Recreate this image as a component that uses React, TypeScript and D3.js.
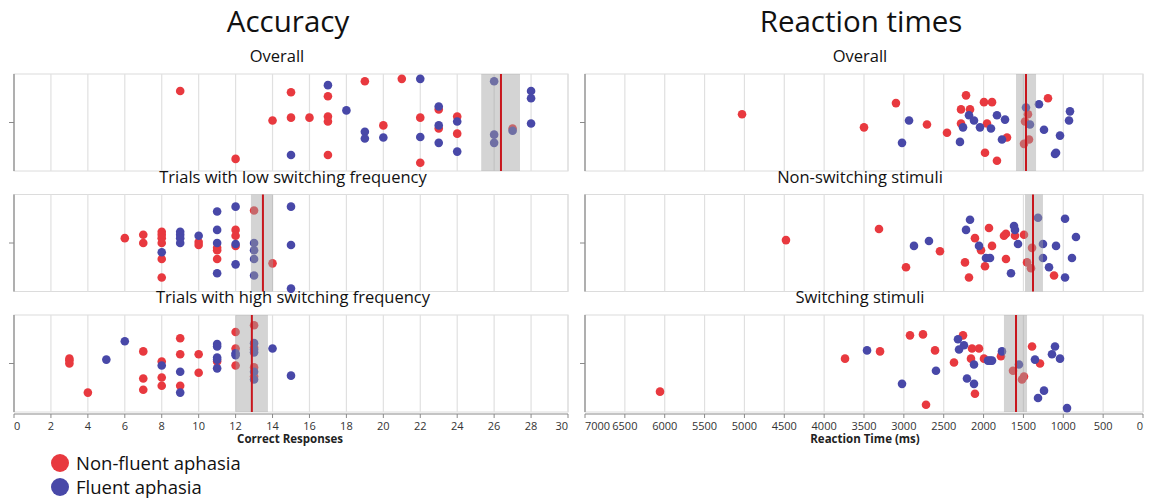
import * as d3 from "d3";

// [value, jitter] pairs; jitter runs -1 (bottom) .. 1 (top) inside each strip
const accOverallNF = [[9,0.65],[15,0.625],[14,0.04],[15,0.1],[12,-0.75],[17,0.54],[16,0.1],[17,0.125],[17,0.02],[17,-0.67],[19,0.85],[20,-0.06],[21,0.9],[22,0.1],[22,-0.83],[23,0.27],[23,-0.125],[24,0.125],[24,-0.23],[27,-0.125]];
const accOverallF = [[15,-0.67],[17,0.77],[18,0.25],[19,-0.19],[19,-0.33],[20,-0.31],[22,0.9],[22,-0.3],[23,0.33],[23,-0.06],[23,-0.42],[24,0.02],[24,-0.6],[26,0.85],[26,-0.25],[26,-0.42],[27,-0.17],[28,0.65],[28,0.5],[28,-0.02]];
const accLowNF = [[6,0.1],[7,0.17],[7,0],[8,0.23],[8,0.17],[8,0.1],[8,0],[8,-0.33],[8,-0.71],[10,0.02],[10,-0.04],[11,-0.1],[11,-0.15],[11,-0.33],[12,0.27],[12,0.15],[12,-0.06],[13,0.67],[14,-0.42]];
const accLowF = [[8,-0.19],[9,0.23],[9,0.17],[9,0.1],[9,0],[10,0.15],[11,0.65],[11,0.27],[11,0],[11,-0.625],[12,0.75],[12,-0.02],[12,-0.44],[13,0],[13,-0.15],[13,-0.33],[13,-0.67],[15,0.75],[15,-0.04],[15,-0.94]];
const accHighNF = [[3,0.1],[3,0.06],[3,0],[4,-0.6],[7,0.25],[7,-0.31],[7,-0.54],[8,0.04],[8,-0.29],[8,-0.46],[9,0.52],[9,0.19],[9,-0.46],[10,0.19],[10,-0.19],[11,0.04],[12,0.65],[12,0.31],[12,-0.04],[13,0.79],[13,0.33],[13,-0.08],[13,-0.27]];
const accHighF = [[5,0.08],[6,0.46],[8,-0.04],[9,-0.17],[9,-0.6],[11,0.4],[11,0.35],[11,0.125],[11,0.08],[11,-0.1],[12,0.21],[12,0.17],[13,0.42],[13,0.29],[13,0.23],[13,-0.17],[13,-0.33],[14,0.31],[15,-0.25]];

const rtOverallNF = [[5030,0.17],[3500,-0.1],[3099,0.4],[2710,-0.04],[2459,-0.21],[2283,0.27],[2283,-0.02],[2220,0.56],[2170,0.27],[1995,0.42],[1982,-0.625],[1957,-0.02],[1894,0.42],[1832,-0.79],[1706,-0.31],[1443,0.17],[1480,0.02],[1430,-0.35],[1493,-0.44],[1192,0.5]];
const rtOverallF = [[2935,0.04],[3023,-0.42],[2296,-0.4],[2258,-0.1],[2183,0.15],[2120,0.04],[2045,-0.1],[1907,-0.125],[1832,0.15],[1769,-0.35],[1731,0.06],[1468,0.31],[1418,-0.04],[1305,0.375],[1242,-0.15],[1041,-0.27],[1104,-0.65],[1091,-0.625],[916,0.23],[928,0.04]];
const rtNonSwNF = [[4479,0.06],[3312,0.29],[2973,-0.5],[2547,-0.17],[2233,-0.4],[2183,-0.71],[2108,0.1],[2032,-0.15],[1982,-0.48],[1932,0.31],[1894,-0.06],[1744,0.15],[1719,0.19],[1719,-0.33],[1606,0.15],[1493,0.17],[1392,-0.1],[1455,-0.4],[1405,-0.52],[1116,-0.67]];
const rtNonSwF = [[2873,-0.06],[2685,0.04],[2220,0.27],[2170,0.48],[2057,-0.06],[1970,-0.31],[1919,-0.31],[1656,-0.625],[1618,0.35],[1606,0.27],[1568,-0.02],[1317,0.52],[1255,-0.02],[1255,-0.31],[1179,-0.5],[1091,-0.06],[978,0.5],[978,-0.71],[891,-0.31],[841,0.125]];
const rtSwNF = [[6059,-0.58],[3738,0.1],[3299,0.25],[2923,0.58],[2760,0.6],[2609,0.27],[2722,-0.85],[2371,0.02],[2258,0.58],[2145,0.31],[2158,0.1],[2108,-0.625],[2057,0.31],[1995,0.1],[1782,0.15],[1631,-0.15],[1493,-0.27],[1518,-0.33],[1392,0.35],[1292,0]];
const rtSwF = [[3462,0.27],[3023,-0.42],[2597,-0.15],[2321,0.5],[2308,0.29],[2246,0.375],[2208,-0.31],[2120,-0.02],[2120,-0.42],[1945,0.06],[1919,0.06],[1894,0.06],[1769,0.25],[1556,-0.02],[1355,0.08],[1242,-0.56],[1317,-0.71],[1104,0.35],[1142,0.19],[1041,0.1],[953,-0.92]];

const accTitles = ["Overall", "Trials with low switching frequency", "Trials with high switching frequency"];
const rtTitles = ["Overall", "Non-switching stimuli", "Switching stimuli"];
const accMeans = [26.37, 13.48, 12.88];
const accCI = [[25.3, 27.4], [12.83, 14.03], [12.0, 13.75]];
const rtMeans = [1468, 1380, 1593];
const rtCI = [[1342, 1593], [1255, 1480], [1455, 1744]];
const accTicks = d3.range(0, 31, 2);
const rtTicks = d3.range(7000, -1, -500);

const W = 1152;
const H = 500;
const ROW_TOP = [74, 194.5, 315];
const ROW_H = 97;
const RED = "#e8393f";
const BLUE = "#4848a8";
const FONT = "'Open Sans', 'DejaVu Sans', sans-serif";

const xAcc = d3.scaleLinear().domain([0, 30]).range([14, 568]);
const xRt = d3.scaleLinear().domain([7000, 0]).range([585, 1143]);

type Pt = number[];

function Strip(props: {
  x: d3.ScaleLinear<number, number>;
  top: number;
  ticks: number[];
  nf: Pt[];
  fl: Pt[];
  mean: number;
  ci: number[];
  title: string;
  titleShift: number;
  bottomAxis: boolean;
}) {
  const { x, top, ticks, nf, fl, mean, ci, title, titleShift, bottomAxis } = props;
  const y = d3.scaleLinear().domain([-1, 1]).range([top + ROW_H, top]);
  const [x0, x1] = x.range();
  const bottom = top + ROW_H;
  const mid = y(0);
  const last = ticks.length - 1;
  return (
    <g>
      <text x={(x0 + x1) / 2 + titleShift} y={top - 12} textAnchor="middle" fontSize={16.5} fill="#111" fontFamily={FONT}>
        {title}
      </text>
      <rect x={x0} y={top} width={x1 - x0} height={ROW_H} fill="#fff" stroke="#dcdcdc" />
      {ticks.map((t) => (
        <line key={t} x1={x(t)} x2={x(t)} y1={top} y2={bottom} stroke="#e0e0e0" strokeWidth={1.2} />
      ))}
      {nf.map((d, i) => (
        <circle key={"n" + i} cx={x(d[0])} cy={y(d[1])} r={4.3} fill={RED} />
      ))}
      {fl.map((d, i) => (
        <circle key={"f" + i} cx={x(d[0])} cy={y(d[1])} r={4.3} fill={BLUE} />
      ))}
      <rect
        x={Math.min(x(ci[0]), x(ci[1]))}
        y={top}
        width={Math.abs(x(ci[1]) - x(ci[0]))}
        height={ROW_H}
        fill="#a0a0a0"
        opacity={0.45}
      />
      <line x1={x(mean)} x2={x(mean)} y1={top} y2={bottom} stroke="#c8161d" strokeWidth={2} />
      <line x1={x0} x2={x0} y1={top} y2={bottom} stroke="#8a8a8a" strokeWidth={1.2} />
      <line x1={x0 - 5} x2={x0} y1={mid} y2={mid} stroke="#8a8a8a" />
      {bottomAxis && (
        <g>
          <line x1={x0} x2={x1} y1={bottom + 2} y2={bottom + 2} stroke="#8a8a8a" strokeWidth={1.2} />
          {ticks.map((t, i) => (
            <g key={"t" + t}>
              <line x1={x(t)} x2={x(t)} y1={bottom + 2} y2={bottom + 6} stroke="#8a8a8a" />
              <text
                x={x(t)}
                y={bottom + 18}
                textAnchor={i === 0 ? "start" : i === last ? "end" : "middle"}
                fontSize={11}
                fill="#333"
                fontFamily={FONT}
              >
                {t}
              </text>
            </g>
          ))}
        </g>
      )}
    </g>
  );
}

export default function App() {
  const accNF = [accOverallNF, accLowNF, accHighNF];
  const accF = [accOverallF, accLowF, accHighF];
  const rtNF = [rtOverallNF, rtNonSwNF, rtSwNF];
  const rtF = [rtOverallF, rtNonSwF, rtSwF];
  return (
    <svg width={W} height={H} style={{ position: "absolute", left: 0, top: 0, background: "#fff" }}>
      <text x={288} y={32} textAnchor="middle" fontSize={29.5} fill="#111" fontFamily={FONT}>
        Accuracy
      </text>
      <text x={861} y={32} textAnchor="middle" fontSize={29.5} fill="#111" fontFamily={FONT}>
        Reaction times
      </text>
      {ROW_TOP.map((top, i) => (
        <Strip key={"a" + i} x={xAcc} top={top} ticks={accTicks} nf={accNF[i]} fl={accF[i]} mean={accMeans[i]} ci={accCI[i]} title={accTitles[i]} titleShift={i === 0 ? -14 : 2} bottomAxis={i === 2} />
      ))}
      {ROW_TOP.map((top, i) => (
        <Strip key={"r" + i} x={xRt} top={top} ticks={rtTicks} nf={rtNF[i]} fl={rtF[i]} mean={rtMeans[i]} ci={rtCI[i]} title={rtTitles[i]} titleShift={-4} bottomAxis={i === 2} />
      ))}
      <text x={290} y={443} textAnchor="middle" fontSize={11.5} fontWeight="bold" fill="#222" fontFamily={FONT}>
        Correct Responses
      </text>
      <text x={865} y={443} textAnchor="middle" fontSize={11.5} fontWeight="bold" fill="#222" fontFamily={FONT}>
        Reaction Time (ms)
      </text>
      <circle cx={60} cy={463} r={9} fill={RED} />
      <text x={76} y={470} fontSize={18.5} fill="#111" fontFamily={FONT}>
        Non-fluent aphasia
      </text>
      <circle cx={60} cy={487} r={9} fill={BLUE} />
      <text x={76} y={494} fontSize={18.5} fill="#111" fontFamily={FONT}>
        Fluent aphasia
      </text>
    </svg>
  );
}
